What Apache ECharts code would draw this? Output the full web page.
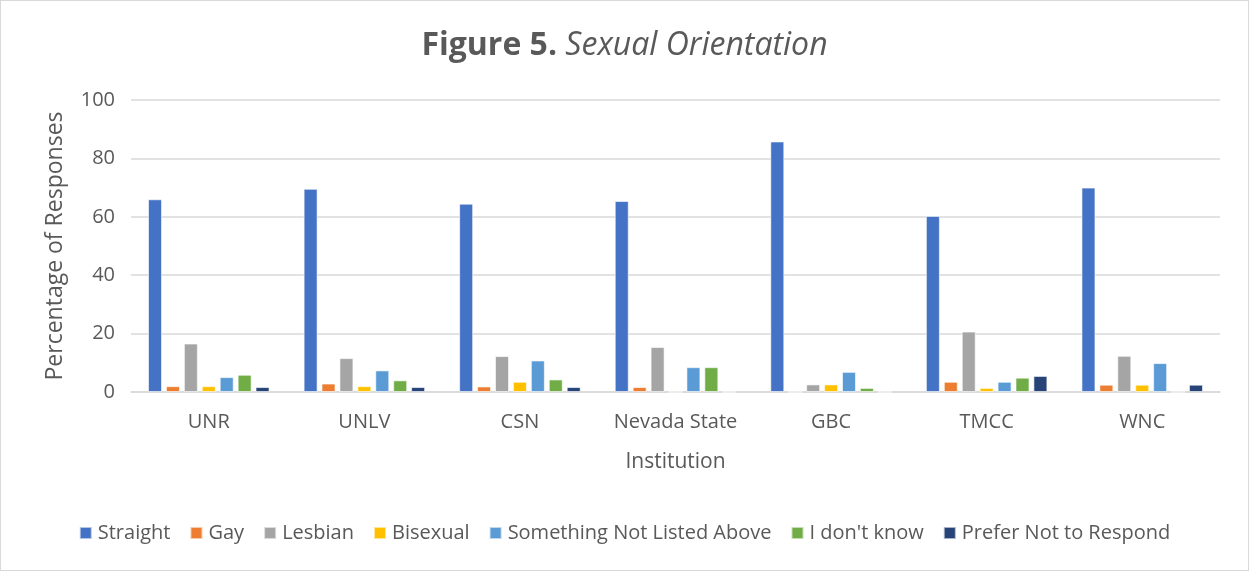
<!DOCTYPE html>
<html>
<head>
<meta charset="utf-8">
<script src="https://cdn.jsdelivr.net/npm/echarts@6/dist/echarts.min.js"></script>
<style>
  html, body { margin: 0; padding: 0; background: #fff; }
  #chart { width: 1247px; height: 569px; border: 1px solid #d9d9d9; }
</style>
</head>
<body>
<div id="chart"></div>
<script>
const institutions = ['UNR', 'UNLV', 'CSN', 'Nevada State', 'GBC', 'TMCC', 'WNC'];
const straight   = [66.0, 69.6, 64.5, 65.4, 85.8, 60.3, 70.0];
const gay        = [2.0, 2.9, 1.9, 1.7, 0, 3.5, 2.5];
const lesbian    = [16.6, 11.6, 12.3, 15.4, 2.6, 20.7, 12.4];
const bisexual   = [2.0, 2.0, 3.5, 0, 2.6, 1.4, 2.5];
const notListed  = [5.1, 7.4, 10.8, 8.5, 6.9, 3.5, 9.9];
const dontKnow   = [5.9, 4.0, 4.3, 8.5, 1.4, 4.9, 0];
const noResponse = [1.7, 1.7, 1.7, 0, 0, 5.5, 2.5];
const yTicks = [0, 20, 40, 60, 80, 100];

const seriesDefs = [
  ['Straight', straight, '#4472C4'],
  ['Gay', gay, '#ED7D31'],
  ['Lesbian', lesbian, '#A5A5A5'],
  ['Bisexual', bisexual, '#FFC000'],
  ['Something Not Listed Above', notListed, '#5B9BD5'],
  ["I don't know", dontKnow, '#70AD47'],
  ['Prefer Not to Respond', noResponse, '#264478']
];

const font = '"Open Sans", Calibri, sans-serif';
const textColor = '#595959';

const chart = echarts.init(document.getElementById('chart'));
chart.setOption({
  animation: false,
  textStyle: { fontFamily: font, color: textColor },
  title: {
    left: 'center',
    top: 24,
    text: '{b|Figure 5. }{i|Sexual Orientation}',
    textStyle: {
      fontWeight: 'normal',
      rich: {
        b: { fontFamily: font, fontSize: 32, fontWeight: 'bold', color: textColor },
        i: { fontFamily: font, fontSize: 32, fontStyle: 'italic', fontWeight: 'normal', color: textColor }
      }
    }
  },
  legend: {
    bottom: 22,
    left: 'center',
    itemWidth: 12,
    itemHeight: 12,
    itemGap: 19,
    icon: 'rect',
    textStyle: { fontFamily: font, fontSize: 20, color: textColor, padding: [0, 0, 0, 1] },
    data: seriesDefs.map(d => d[0])
  },
  grid: { left: 130, right: 28, top: 99, bottom: 178 },
  xAxis: {
    type: 'category',
    data: institutions,
    name: 'Institution',
    nameLocation: 'middle',
    nameGap: 60,
    nameTextStyle: { fontFamily: font, fontSize: 21, color: textColor },
    axisLine: { lineStyle: { color: '#d9d9d9', width: 1.5 } },
    axisTick: { show: false },
    axisLabel: { fontFamily: font, fontSize: 20, color: textColor, margin: 20, interval: 0 }
  },
  yAxis: {
    type: 'value',
    min: yTicks[0],
    max: yTicks[yTicks.length - 1],
    interval: 20,
    name: 'Percentage of Responses',
    nameLocation: 'middle',
    nameGap: 64,
    nameTextStyle: { fontFamily: font, fontSize: 23, color: textColor },
    axisLabel: { fontFamily: font, fontSize: 20, color: textColor, margin: 16 },
    splitLine: { lineStyle: { color: '#d9d9d9', width: 1.5 } },
    axisLine: { show: false },
    axisTick: { show: false }
  },
  series: seriesDefs.map(([name, data, color]) => ({
    name,
    type: 'bar',
    data,
    barWidth: 14,
    barGap: '28%',
    itemStyle: { color, borderColor: 'rgba(255,255,255,0.6)', borderWidth: 1 }
  }))
});
</script>
</body>
</html>
